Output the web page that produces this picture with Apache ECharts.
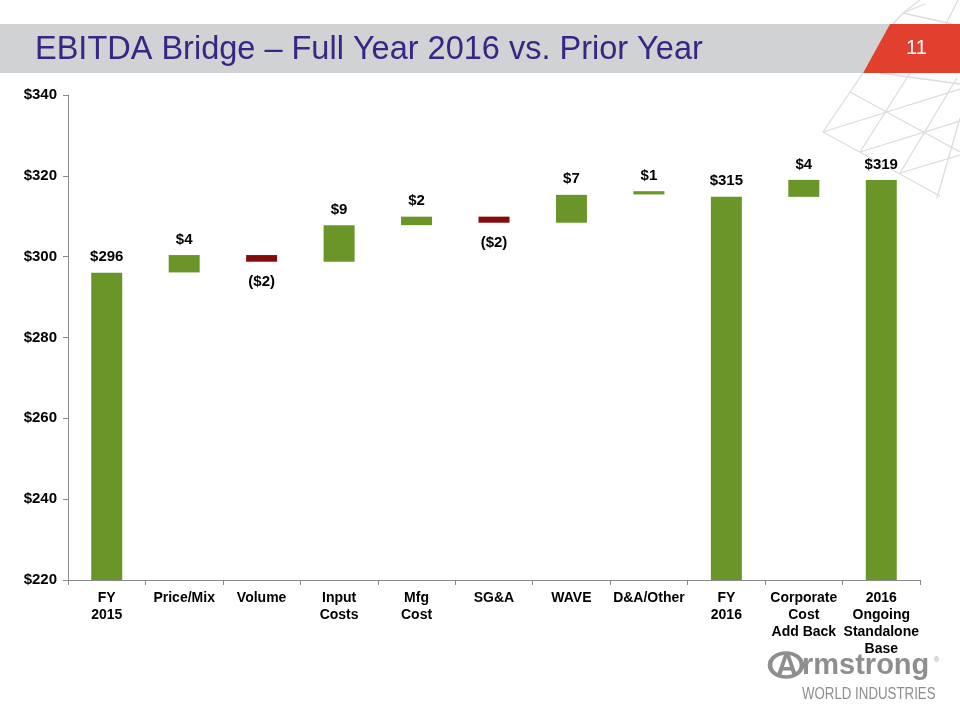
<!DOCTYPE html>
<html>
<head>
<meta charset="utf-8">
<script src="https://cdn.jsdelivr.net/npm/echarts@6/dist/echarts.min.js"></script>
<style>
html,body{margin:0;padding:0;background:#fff;}
#chart{width:960px;height:720px;}
</style>
</head>
<body>
<div id="chart"></div>
<script>
// ---- data ----
const categories = ['FY\n2015', 'Price/Mix', 'Volume', 'Input\nCosts', 'Mfg\nCost', 'SG&A', 'WAVE', 'D&A/Other', 'FY\n2016', 'Corporate\nCost\nAdd Back', '2016\nOngoing\nStandalone\nBase'];
const barLow  = [0,     296.1, 298.75, 298.75, 307.8, 308.4, 308.4, 315.4, 0,     314.8, 0];
const barHigh = [296.0, 300.4, 300.4,  307.8,  309.9, 309.9, 315.3, 316.2, 314.8, 319.0, 319.0];
const barKind = ['total', 'up', 'down', 'up', 'up', 'down', 'up', 'up', 'total', 'up', 'total'];
const barLabels = ['$296', '$4', '($2)', '$9', '$2', '($2)', '$7', '$1', '$315', '$4', '$319'];
const yTicks = { min: 220, max: 340, interval: 20 };

const GREEN = '#6a9629';
const RED = '#850b0b';
const FONT = '"Liberation Sans", Arial, sans-serif';

const chart = echarts.init(document.getElementById('chart'));

const baseData = barLow.map(v => v);
const deltaData = barHigh.map((h, i) => {
  const down = barKind[i] === 'down';
  return {
    value: h - barLow[i],
    itemStyle: { color: down ? RED : GREEN },
    label: {
      show: true,
      position: down ? 'bottom' : 'top',
      distance: down ? 13 : 8,
      formatter: barLabels[i]
    }
  };
});

// lattice decoration lines (top-right)
const lattice = [
  [[920,0],[903,13]], [[903,13],[893,24]], [[903,13],[925,4]], [[903,13],[952,24]], [[958,0],[946,24]],
  [[863,73],[823,132]], [[910,73],[860,152]], [[957,78],[900,173]], [[960,118],[937,198]],
  [[850,92],[960,152]], [[823,132],[940,196]],
  [[823,132],[960,89]], [[860,152],[960,121]], [[900,173],[960,155]],
  [[880,73],[960,84]]
];

const graphics = [];
lattice.forEach(seg => {
  graphics.push({
    type: 'line', z: -10, silent: true,
    shape: { x1: seg[0][0], y1: seg[0][1], x2: seg[1][0], y2: seg[1][1] },
    style: { stroke: '#dcdcdc', lineWidth: 1.3 }
  });
});
graphics.push(
  { type: 'polygon', z: 1, silent: true, shape: { points: [[0,24],[890,24],[863,73],[0,73]] }, style: { fill: '#d1d2d4' } },
  { type: 'polygon', z: 1, silent: true, shape: { points: [[890,24],[960,24],[960,73],[863,73]] }, style: { fill: '#e2402f' } },
  { type: 'text', z: 2, left: 35, top: 34, style: { text: 'EBITDA Bridge – Full Year 2016 vs. Prior Year', fill: '#382684', font: '32.5px ' + FONT } },
  { type: 'text', z: 2, left: 906, top: 38, style: { text: '11', fill: '#ffffff', font: '20px ' + FONT } },
  // logo
  { type: 'circle', z: 2, silent: true, x: 786, y: 665, scaleX: 1.33, scaleY: 1,
    shape: { cx: 0, cy: 0, r: 12 }, style: { fill: 'none', stroke: '#8e8e8e', lineWidth: 3.5 } },
  { type: 'text', z: 2, silent: true, x: 787, y: 667,
    style: { x: 0, y: 0, text: 'A', fill: '#8e8e8e', font: 'bold 31px ' + FONT, textAlign: 'center', textVerticalAlign: 'middle' } },
  { type: 'text', z: 2, left: 802, top: 651, style: { text: 'rmstrong', fill: '#8e8e8e', font: 'bold 29px ' + FONT } },
  { type: 'text', z: 2, left: 934, top: 657, style: { text: '®', fill: '#9a9a9a', font: '7px ' + FONT } },
  { type: 'text', z: 2, silent: true, x: 802, y: 687, scaleX: 0.83, scaleY: 1,
    style: { x: 0, y: 0, text: 'WORLD INDUSTRIES', fill: '#8e8e8e', font: '16px ' + FONT, textVerticalAlign: 'top' } }
);

chart.setOption({
  animation: false,
  backgroundColor: '#ffffff',
  grid: { left: 68, right: 40, top: 95, bottom: 140, containLabel: false },
  graphic: graphics,
  xAxis: {
    type: 'category',
    data: categories,
    axisLine: { lineStyle: { color: '#8a8a8a', width: 1 } },
    axisTick: { show: true, alignWithLabel: false, length: 5, lineStyle: { color: '#8a8a8a' } },
    axisLabel: {
      interval: 0, margin: 10, color: '#000', fontWeight: 'bold', fontSize: 14, lineHeight: 17,
      fontFamily: FONT
    }
  },
  yAxis: {
    type: 'value',
    min: yTicks.min, max: yTicks.max, interval: yTicks.interval,
    axisLine: { show: true, lineStyle: { color: '#8a8a8a', width: 1 } },
    axisTick: { show: true, length: 5, lineStyle: { color: '#8a8a8a' } },
    splitLine: { show: false },
    axisLabel: {
      margin: 11, color: '#000', fontWeight: 'bold', fontSize: 15,
      fontFamily: FONT,
      formatter: v => '$' + v
    }
  },
  series: [
    {
      type: 'bar', stack: 'w', data: baseData, barWidth: 31,
      itemStyle: { color: 'rgba(0,0,0,0)' }, silent: true
    },
    {
      type: 'bar', stack: 'w', data: deltaData, barWidth: 31,
      label: {
        color: '#000', fontWeight: 'bold', fontSize: 15,
        fontFamily: FONT
      }
    }
  ]
});
</script>
</body>
</html>
